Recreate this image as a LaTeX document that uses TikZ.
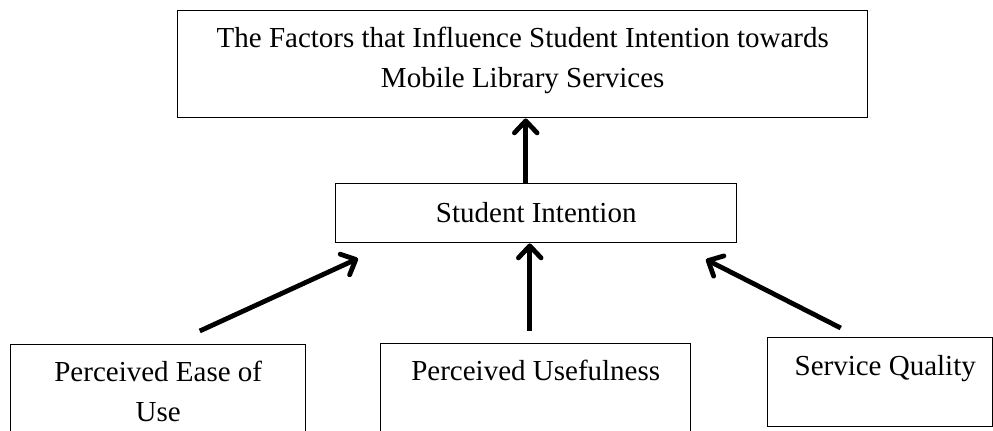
\documentclass[tikz,border=0pt]{standalone}
\usepackage{fontspec}
\setmainfont{Liberation Serif}
\usetikzlibrary{positioning, calc, arrows.meta}

\begin{document}
\begin{tikzpicture}[x = 0.75pt, y = -0.75pt,
    box/.style = { draw, line width = 1.1pt, inner sep = 0pt },
    caption/.style = { align = center, inner sep = 0pt, anchor = north,
                       font = \fontsize{21.75}{30}\selectfont },
    flow/.style = { line width = 3.6pt,
                    -{Straight Barb[length = 9pt, width = 17pt, round]} }]
    \useasboundingbox (0,0) rectangle (993,430);

    % boxes (the bottom row runs off the lower edge)
    \node [box, anchor = north west, minimum width = 517.5pt, minimum height = 80.25pt] (factors) at (177,10) {};
    \node [box, anchor = north west, minimum width = 300.75pt, minimum height = 44.25pt] (intention) at (335,183) {};
    \node [box, anchor = north west, minimum width = 221.25pt, minimum height = 79.5pt] (ease) at (10,344) {};
    \node [box, anchor = north west, minimum width = 232.5pt, minimum height = 80.25pt] (useful) at (380,343) {};
    \node [box, anchor = north west, minimum width = 168.75pt, minimum height = 66.75pt] (quality) at (767,337) {};

    % texts sit at the top of each box
    \node [caption] (factorsText) at ($(factors.north) + (0,17)$) {The Factors that Influence Student Intention towards\\ Mobile Library Services};
    \node [caption] (intentionText) at ($(intention.north) + (0,19)$) {Student Intention};
    \node [caption] (easeText) at ($(ease.north) + (0,17)$) {Perceived Ease of\\ Use};
    \node [caption] (usefulText) at ($(useful.north) + (0,17)$) {Perceived Usefulness};
    \node [caption] (qualityText) at ($(quality.north) + (5,18)$) {Service Quality};

    % loose ends of the arrows
    \coordinate (easeTail) at ($(ease.north) + (41.5,-13)$);
    \coordinate (usefulTail) at ($(useful.north) + (-6,-12)$);
    \coordinate (qualityTail) at ($(quality.north) + (-39.5,-9)$);
    \coordinate (intentionTop) at ($(intention.north) + (-10.5,0)$);

    \draw [flow] (intentionTop) -- (intentionTop |- factors.south);
    \draw [flow] (easeTail) -- ($(intention.south west) + (23,15)$);
    \draw [flow] (usefulTail) -- (usefulTail |- intention.south);
    \draw [flow] (qualityTail) -- ($(intention.south east) + (-31.5,16)$);
\end{tikzpicture}
\end{document}
